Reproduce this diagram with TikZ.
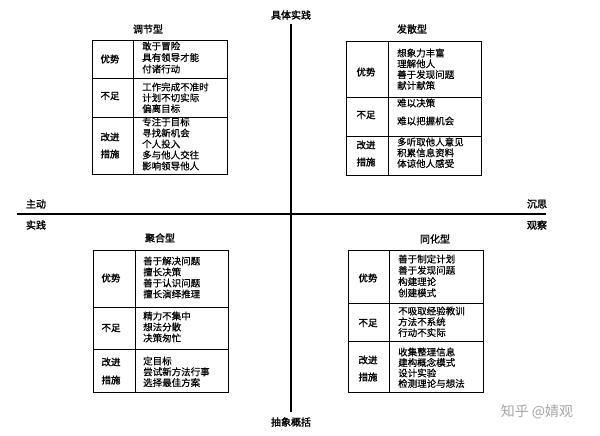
\documentclass[tikz,border=0pt]{standalone}
\usepackage{fontspec}
\newfontfamily\cjk[FakeBold=0.5]{Noto Sans CJK SC}
\newfontfamily\cjkbold[FakeBold=1.6]{Noto Sans CJK SC}
\newfontfamily\cjklight{Noto Sans CJK SC}

\begin{document}
\begin{tikzpicture}[
  x=1pt, y=-1pt,
  tbl/.style={draw=black, line width=0.9pt},
  axis/.style={draw=black, line width=1.4pt},
  item/.style={anchor=west, inner sep=0pt, font=\cjk\fontsize{9.5}{9.5}\selectfont},
  side/.style={inner sep=0pt, font=\cjkbold\fontsize{9.5}{9.5}\selectfont},
  title/.style={inner sep=0pt, font=\cjkbold\fontsize{10}{10}\selectfont},
  pole/.style={inner sep=0pt, font=\cjkbold\fontsize{10}{10}\selectfont},
  mark_text/.style={inner sep=0pt, text=black!35, font=\cjklight\fontsize{14}{14}\selectfont}
]
\useasboundingbox (0,0) rectangle (600,436);

% --- Axes ---
\node[pole] (concrete) at (291,15) {具体实践};
\node[pole] (abstract) at (291,422) {抽象概括};
\draw[axis, shorten <=4pt, shorten >=5pt] (concrete) -- (abstract);

\coordinate (west) at (17,214);
\coordinate (east) at (546,214);
\draw[axis] (west) -- (east);

\node[pole] (active) at (36,204) {主动};
\node[pole] (doing) at (36,225) {实践};
\node[pole] (reflect) at (537,204) {沉思};
\node[pole] (watch) at (537,225) {观察};

% --- 调节型 (top left) ---
\node[title] (tl) at (148,29) {调节型};
\draw[tbl] (92,40) rectangle (227,174);
\draw[tbl] (133,40) -- (133,174);
\draw[tbl] (92,78) -- (227,78);
\draw[tbl] (92,117) -- (227,117);
\node[side] (tl-s1) at (110,59) {优势};
\node[side] (tl-s2) at (110,96) {不足};
\node[side] (tl-s3) at (110,137) {改进};
\node[side] (tl-s4) at (110,154) {措施};
\foreach \t [count=\k] in {敢于冒险,具有领导才能,付诸行动}
  \node[item] (tl-a\k) at (142,{46+11.5*(\k-1)}) {\t};
\foreach \t [count=\k] in {工作完成不准时,计划不切实际,偏离目标}
  \node[item] (tl-b\k) at (142,{87+10.8*(\k-1)}) {\t};
\foreach \t [count=\k] in {专注于目标,寻找新机会,个人投入,多与他人交往,影响领导他人}
  \node[item] (tl-c\k) at (142,{122+11*(\k-1)}) {\t};

% --- 发散型 (top right) ---
\node[title] (tr) at (412,29) {发散型};
\draw[tbl] (346,41) rectangle (481,175);
\draw[tbl] (388,41) -- (388,175);
\draw[tbl] (346,97) -- (481,97);
\draw[tbl] (346,136) -- (481,136);
\node[side] (tr-s1) at (366,72) {优势};
\node[side] (tr-s2) at (366,115) {不足};
\node[side] (tr-s3) at (366,145) {改进};
\node[side] (tr-s4) at (366,162) {措施};
\foreach \t [count=\k] in {想象力丰富,理解他人,善于发现问题,献计献策}
  \node[item] (tr-a\k) at (397,{53+10.8*(\k-1)}) {\t};
\foreach \t [count=\k] in {难以决策,难以把握机会}
  \node[item] (tr-b\k) at (397,{103+18*(\k-1)}) {\t};
\foreach \t [count=\k] in {多听取他人意见,积累信息资料,体谅他人感受}
  \node[item] (tr-c\k) at (397,{142+10.8*(\k-1)}) {\t};

% --- 聚合型 (bottom left) ---
\node[title] (bl) at (160,238) {聚合型};
\draw[tbl] (93,250) rectangle (228,392);
\draw[tbl] (135,250) -- (135,392);
\draw[tbl] (93,307) -- (228,307);
\draw[tbl] (93,349) -- (228,349);
\node[side] (bl-s1) at (111,278) {优势};
\node[side] (bl-s2) at (111,328) {不足};
\node[side] (bl-s3) at (111,362) {改进};
\node[side] (bl-s4) at (111,380) {措施};
\foreach \t [count=\k] in {善于解决问题,擅长决策,善于认识问题,擅长演绎推理}
  \node[item] (bl-a\k) at (143,{261+11*(\k-1)}) {\t};
\foreach \t [count=\k] in {精力不集中,想法分散,决策匆忙}
  \node[item] (bl-b\k) at (143,{316+11*(\k-1)}) {\t};
\foreach \t [count=\k] in {定目标,尝试新方法行事,选择最佳方案}
  \node[item] (bl-c\k) at (143,{361+10.8*(\k-1)}) {\t};

% --- 同化型 (bottom right) ---
\node[title] (br) at (435,239) {同化型};
\draw[tbl] (348,250) rectangle (483,392);
\draw[tbl] (389,250) -- (389,392);
\draw[tbl] (348,303) -- (483,303);
\draw[tbl] (348,341) -- (483,341);
\node[side] (br-s1) at (368,278) {优势};
\node[side] (br-s2) at (368,323) {不足};
\node[side] (br-s3) at (368,360) {改进};
\node[side] (br-s4) at (368,377) {措施};
\foreach \t [count=\k] in {善于制定计划,善于发现问题,构建理论,创建模式}
  \node[item] (br-a\k) at (398,{259+11.3*(\k-1)}) {\t};
\foreach \t [count=\k] in {不吸取经验教训,方法不系统,行动不实际}
  \node[item] (br-b\k) at (398,{311+10.8*(\k-1)}) {\t};
\foreach \t [count=\k] in {收集整理信息,建构概念模式,设计实验,检测理论与想法}
  \node[item] (br-c\k) at (398,{352+10.5*(\k-1)}) {\t};

% --- Watermark ---
\node[mark_text] (credit) at (537,412) {知乎 @婧观};

\end{tikzpicture}
\end{document}
